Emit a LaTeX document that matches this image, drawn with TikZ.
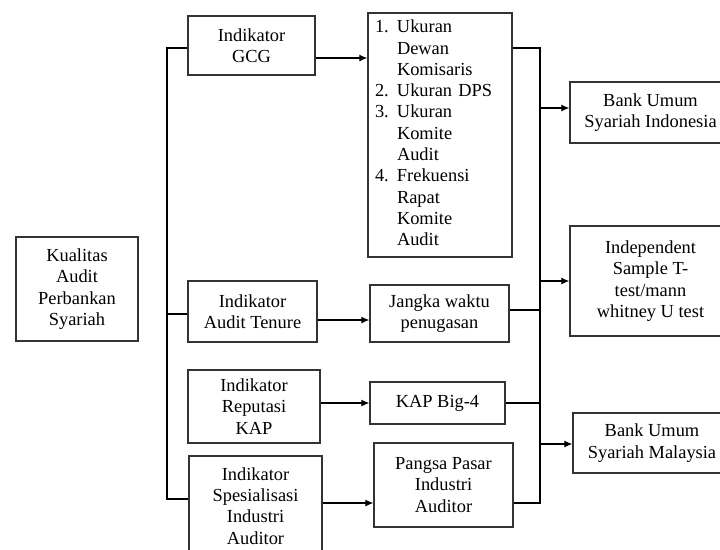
\documentclass[tikz,border=0pt]{standalone}
\usepackage{fontspec}
\setmainfont{Liberation Serif}
\usetikzlibrary{arrows.meta,positioning}

\begin{document}
\begin{tikzpicture}[x=1pt, y=-1pt, line width=1.1pt, font=\fontsize{18.4}{21.3}\selectfont]
   \useasboundingbox (0,0) rectangle (720,549);
   \clip (0,0) rectangle (720,549);
   \begin{scope}[every node/.style={rectangle,draw=black!80,line width=1.4pt,align=center,inner sep=0pt}]
    \node (kual) [minimum width=122, minimum height=104] at (77,289) {Kualitas\\Audit\\Perbankan\\Syariah};
    \node (gcg) [minimum width=127, minimum height=59] at (251.5,45.5) {Indikator\\GCG};
    \node (ten) [minimum width=129, minimum height=61] at (252.5,311.5) {Indikator\\Audit Tenure};
    \node (rep) [minimum width=132, minimum height=73] at (254,406.5) {Indikator\\Reputasi\\KAP};
    \node (spes) [minimum width=133, minimum height=100] at (255.5,506) {Indikator\\Spesialisasi\\Industri\\Auditor};
    \node (ukuran) [text width=130, inner xsep=7pt, align=left, minimum height=244] at (440,135)
      {\begin{tabular}{@{}p{22pt}@{}l@{}}
        1. & Ukuran\\ & Dewan\\ & Komisaris\\
        2. & Ukuran DPS\\
        3. & Ukuran\\ & Komite\\ & Audit\\
        4. & Frekuensi\\ & Rapat\\ & Komite\\ & Audit
       \end{tabular}};
    \node (jangka) [minimum width=139, minimum height=57] at (439.5,313.5) {Jangka waktu\\penugasan};
    \node (big) [minimum width=135, minimum height=42] at (437.5,403) {KAP Big-4};
    \node (pangsa) [minimum width=139, minimum height=84] at (443.5,485) {Pangsa Pasar\\Industri\\Auditor};
    \node (bui) [minimum width=161, minimum height=61] at (650.5,112.5) {Bank Umum\\Syariah Indonesia};
    \node (uji) [minimum width=161, minimum height=110] at (650.5,281) {Independent\\Sample T-\\test/mann\\whitney U test};
    \node (bum) [minimum width=158, minimum height=60] at (652,443) {Bank Umum\\Syariah Malaysia};
   \end{scope}
   % trunk on the left and bus on the right
   \coordinate (tr) at (167,0);
   \coordinate (bus) at (540,0);
   \draw (gcg.west |- 0,48) -| (tr |- 0,499) -- (spes.west |- 0,499);
   \draw (ten.west |- 0,314) -- (tr |- 0,314);
   \draw (ukuran.east |- 0,48) -| (bus |- 0,503) -- (pangsa.east |- 0,503);
   \draw (jangka.east |- 0,310) -- (bus |- 0,310);
   \draw (big.east |- 0,403) -- (bus |- 0,403);
   \begin{scope}[-{Latex[length=8pt,width=7pt]}]
    \draw (gcg.east |- 0,58) -- (ukuran.west |- 0,58);
    \draw (ten.east |- 0,320) -- (jangka.west |- 0,320);
    \draw (rep.east |- 0,403) -- (big.west |- 0,403);
    \draw (spes.east |- 0,503) -- (pangsa.west |- 0,503);
    \draw (bus |- 0,108) -- (bui.west |- 0,108);
    \draw (bus |- 0,281) -- (uji.west |- 0,281);
    \draw (bus |- 0,444) -- (bum.west |- 0,444);
   \end{scope}
\end{tikzpicture}
\end{document}
